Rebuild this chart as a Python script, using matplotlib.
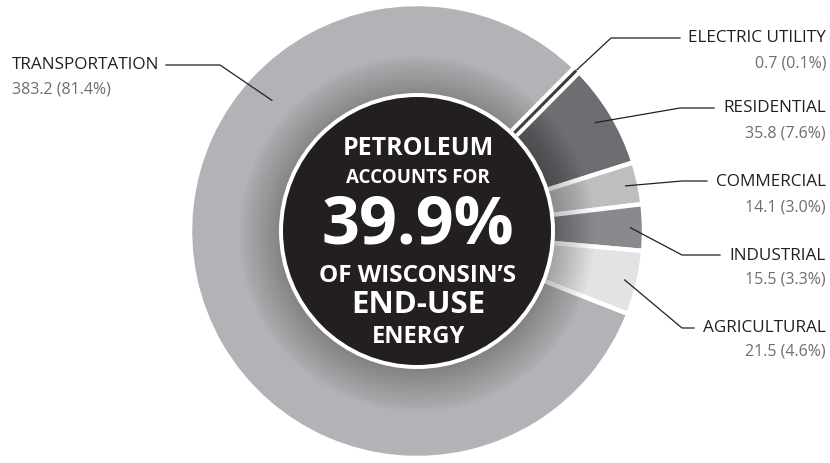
import numpy as np
import matplotlib
matplotlib.use("Agg")
import matplotlib.pyplot as plt
from matplotlib.patches import Circle

# Wisconsin petroleum end-use by sector (trillion Btu, share %)
sectors = ['ELECTRIC UTILITY', 'RESIDENTIAL', 'COMMERCIAL', 'INDUSTRIAL', 'AGRICULTURAL', 'TRANSPORTATION']
values = [0.7, 35.8, 14.1, 15.5, 21.5, 383.2]
shares = [0.1, 7.6, 3.0, 3.3, 4.6, 81.4]
colors = ['#3d3d3f', '#6d6e71', '#bcbec0', '#898a8d', '#e2e3e4', '#b1b3b6']
center_lines = ['PETROLEUM', 'ACCOUNTS FOR', '39.9%', "OF WISCONSIN\u2019S", 'END-USE', 'ENERGY']

W, H = 830, 463
CX, CY = 417, H - 231
R_OUT, R_IN = 227, 138


def py(y):
    # pixel row (from top) -> data y
    return H - y


fig = plt.figure(figsize=(W / 100, H / 100), dpi=100)
ax = fig.add_axes([0, 0, 1, 1])

wedges, _ = ax.pie(values, colors=colors, startangle=45.5, counterclock=False,
                   center=(CX, CY), radius=R_OUT,
                   wedgeprops=dict(edgecolor='white', linewidth=3.2))

# soft shadow around the centre disc
for r in np.linspace(178, R_IN, 22):
    ax.add_patch(Circle((CX, CY - 3), r, color='black', alpha=0.012, lw=0, zorder=3))

# electric utility slice is too thin to show, draw it as a bar with white halo
w = wedges[0]
mid = np.deg2rad((w.theta1 + w.theta2) / 2)
xs = [CX + R_IN * np.cos(mid), CX + (R_OUT - 1) * np.cos(mid)]
ys = [CY + R_IN * np.sin(mid), CY + (R_OUT - 1) * np.sin(mid)]
ax.plot(xs, ys, color='white', lw=8, solid_capstyle='butt', zorder=4)
ax.plot(xs, ys, color=colors[0], lw=2.2, solid_capstyle='butt', zorder=5)

# centre disc
ax.add_patch(Circle((CX, CY), R_IN, color='white', lw=0, zorder=6))
ax.add_patch(Circle((CX, CY), R_IN - 4, color='#231f20', lw=0, zorder=7))

center_base = [155, 183, 243, 282, 313, 343]
center_size = [18, 13.5, 48, 17.5, 22.5, 17]
for txt, yb, fs in zip(center_lines, center_base, center_size):
    ax.text(CX + 1, py(yb), txt, color='white', fontsize=fs, fontweight='bold',
            family='Open Sans', ha='center', va='baseline', zorder=8)

# labels: (text x, name y, value y, leader radius, leader angle or None, elbow x, elbow y, end x)
label_layout = {
    'ELECTRIC UTILITY': (826, 38, 63, 1.0, None, 611, 38, 680),
    'RESIDENTIAL': (826, 108, 133, 0.92, None, 680, 108, 714),
    'COMMERCIAL': (826, 182, 207, 0.94, None, 682, 181, 707),
    'INDUSTRIAL': (826, 256, 280, 0.94, None, 682, 255, 720),
    'AGRICULTURAL': (826, 328, 352, 0.94, None, 682, 328, 694),
    'TRANSPORTATION': (12, 65, 90, 0.86, 138, 220, 65, 166),
}

for wdg, name, val, pct in zip(wedges, sectors, values, shares):
    tx, ny, vy, rf, ang, ex, ey, endx = label_layout[name]
    ha = 'left' if tx < CX else 'right'
    if ang is None:
        ang = (wdg.theta1 + wdg.theta2) / 2
    a = np.deg2rad(ang)
    px0 = CX + rf * R_OUT * np.cos(a)
    py0 = CY + rf * R_OUT * np.sin(a)
    ax.plot([px0, ex, endx], [py0, py(ey), py(ey)], color='#231f20', lw=0.9, zorder=9)
    ax.text(tx, py(ny), name, color='#231f20', fontsize=12.3, family='Open Sans',
            ha=ha, va='center', zorder=9)
    ax.text(tx, py(vy), f'{val} ({pct}%)', color='#6d6e71', fontsize=11.5,
            family='Open Sans', ha=ha, va='center', zorder=9)

ax.set_xlim(0, W)
ax.set_ylim(0, H)
ax.axis('off')
fig.savefig('out.png', dpi=100, facecolor='white')
